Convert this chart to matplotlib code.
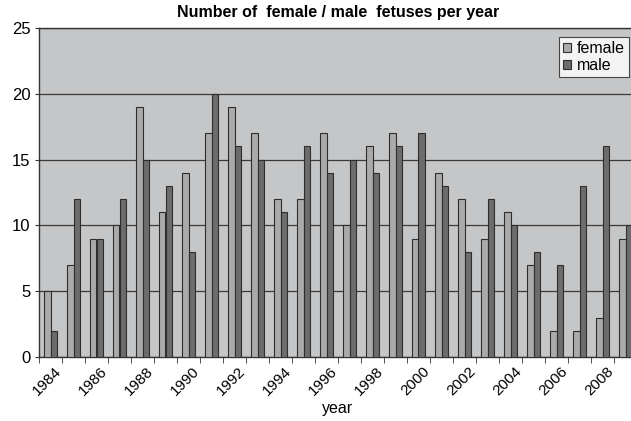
import matplotlib
matplotlib.use("Agg")
import matplotlib.pyplot as plt
import matplotlib.transforms as mtransforms
import numpy as np

years = list(range(1984, 2010))
female = [5, 7, 9, 10, 19, 11, 14, 17, 19, 17, 12, 12, 17, 10, 16, 17, 9, 14, 12, 9, 11, 7, 2, 2, 3, 9]
male = [2, 12, 9, 12, 15, 13, 8, 20, 16, 15, 11, 16, 14, 15, 14, 16, 17, 13, 8, 12, 10, 8, 7, 13, 16, 10]
title = "Number of  female / male  fetuses per year"

plt.rcParams['font.family'] = ['Liberation Sans', 'DejaVu Sans']

W, H = 631, 421
fig = plt.figure(figsize=(W / 100, H / 100), dpi=100)
left, right, top, bottom = 39, 637, 28, 357
ax = fig.add_axes([left / W, 1 - bottom / H, (right - left) / W, (bottom - top) / H])

bg = '#c5c6c8'
fcol = '#a9aaac'
mcol = '#6b6c6e'
edge = '#2e2e2e'

ax.set_facecolor(bg)
x = np.arange(len(years))
bw = 0.30
ax.bar(x - bw / 2, female, width=bw, color=fcol, edgecolor=edge, linewidth=0.8, label='female', zorder=3)
ax.bar(x + bw / 2, male, width=bw, color=mcol, edgecolor=edge, linewidth=0.8, label='male', zorder=3)

ax.set_xlim(-0.5, len(years) - 0.5)
ax.set_ylim(0, 25)
ax.set_yticks([0, 5, 10, 15, 20, 25])
ax.yaxis.grid(True, color='#3a3a3a', linewidth=0.9, zorder=1)
ax.set_axisbelow(True)
ax.tick_params(axis='y', labelsize=12, length=3, direction='out', color='#333333', pad=3)

ax.set_xticks(x[::2])
ax.set_xticklabels([str(y) for y in years[::2]], rotation=45, ha='right',
                   rotation_mode='anchor', fontsize=11)
ax.set_xticks(np.arange(-0.5, len(years), 1), minor=True)
ax.tick_params(axis='x', which='major', length=0, pad=5)
ax.tick_params(axis='x', which='minor', length=4, direction='out', color='#333333')
offset = mtransforms.ScaledTranslation(4 / 100, 0, fig.dpi_scale_trans)
for lbl in ax.get_xticklabels():
    lbl.set_transform(lbl.get_transform() + offset)

for s in ax.spines.values():
    s.set_color('#333333')
    s.set_linewidth(1.0)

fig.text(338 / W, 1 - 409 / H, 'year', ha='center', va='center', fontsize=11.5)
fig.text(338 / W, 1 - 13 / H, title, ha='center', va='center', fontsize=11.5, fontweight='bold')

leg = ax.legend(loc='upper right', bbox_to_anchor=((629 - left) / (right - left), 1 - (37 - top) / (bottom - top)),
                frameon=True, fancybox=False, edgecolor='#222222', facecolor='white',
                fontsize=11.5, handlelength=0.5, handleheight=0.5, handletextpad=0.4,
                borderpad=0.25, labelspacing=0.15, borderaxespad=0)
leg.get_frame().set_linewidth(0.8)

fig.savefig('out.png', dpi=100)
